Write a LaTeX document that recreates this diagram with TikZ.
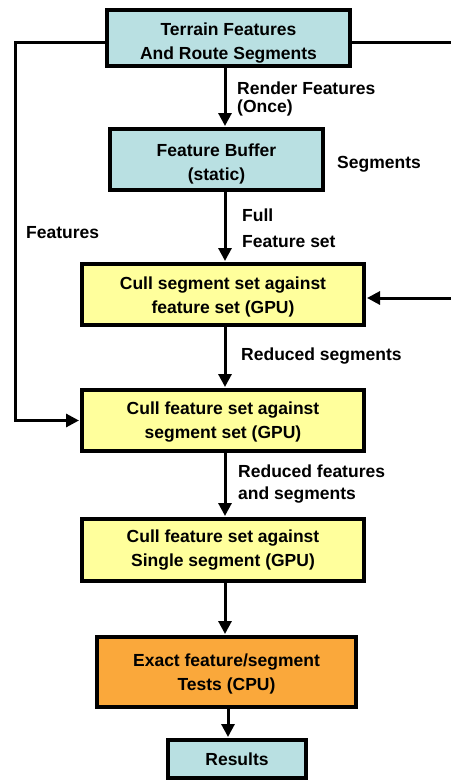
\documentclass[tikz,border=0pt]{standalone}
\usepackage{fontspec}
\setmainfont{Liberation Sans}
\usetikzlibrary{arrows.meta}
\definecolor{cyanbox}{HTML}{B9E0E2}
\definecolor{yelbox}{HTML}{FFFF9C}
\definecolor{orabox}{HTML}{FAA83B}
\newcommand{\myraise}[1]{\rule{0pt}{#1}}
\begin{document}
\begin{tikzpicture}[x=1pt,y=-1pt,
  box/.style={draw=black, line width=4pt, align=center, inner sep=0pt,
    font=\bfseries\fontsize{17.5}{24}\selectfont},
  lbl/.style={inner sep=0pt, align=left},
  conn/.style={line width=3pt},
  arr/.style={conn, -{Triangle[length=13pt,width=13pt]}, shorten >=1pt}]
\useasboundingbox (0,0) rectangle (450,782);
\node[box, fill=cyanbox, minimum width=243pt, minimum height=56pt] (top) at (228.5,38) {\myraise{22.5pt}Terrain Features\\And Route Segments};
\node[box, fill=cyanbox, minimum width=213pt, minimum height=61pt] (fb) at (216.5,159.5) {\myraise{22.5pt}Feature Buffer\\(static)};
\node[box, fill=yelbox, minimum width=282pt, minimum height=61pt] (c1) at (223,294.5) {\myraise{17pt}Cull segment set against\\feature set (GPU)};
\node[box, fill=yelbox, minimum width=282pt, minimum height=61pt] (c2) at (223,420.5) {\myraise{16pt}Cull feature set against\\segment set (GPU)};
\node[box, fill=yelbox, minimum width=282pt, minimum height=62pt] (c3) at (223,550) {Cull feature set against\\Single segment (GPU)};
\node[box, fill=orabox, minimum width=259pt, minimum height=70pt] (ex) at (226.5,672) {\myraise{17pt}Exact feature/segment\\Tests (CPU)};
\node[box, fill=cyanbox, minimum width=138pt, minimum height=38pt] (res) at (237,759) {Results};
\coordinate (ax) at (225,0);
\coordinate (bx) at (228,0);
\coordinate (lc) at (15,0);
\coordinate (rtop) at (452,42);
\coordinate (rin) at (452,298);
\draw[arr] (top.south -| ax) -- (fb.north -| ax);
\draw[arr] (fb.south -| ax) -- (c1.north -| ax);
\draw[arr] (c1.south -| ax) -- (c2.north -| ax);
\draw[arr] (c2.south -| ax) -- (c3.north -| ax);
\draw[arr] (c3.south -| ax) -- (ex.north -| ax);
\draw[arr] (ex.south -| bx) -- (res.north -| bx);
\draw[arr] ([yshift=-4pt]top.west) -| (lc |- c2.west) -- (c2.west);
\draw[conn] ([yshift=-4pt]top.east) -- (rtop);
\draw[arr] (rin) -- (c1.east |- rin);
\node[lbl, anchor=north west, font=\bfseries\fontsize{17.5}{18.4}\selectfont] (l1) at (237,81.7) {Render Features\\(Once)};
\node[lbl, anchor=base west, font=\bfseries\fontsize{17.5}{21}\selectfont] (l2) at (337,168.3) {Segments};
\node[lbl, anchor=base west, font=\bfseries\fontsize{17.5}{21}\selectfont] (l3) at (26,238.3) {Features};
\node[lbl, anchor=north west, font=\bfseries\fontsize{17.5}{26.7}\selectfont] (l4) at (242,208.3) {Full\\Feature set};
\node[lbl, anchor=base west, font=\bfseries\fontsize{17.5}{21}\selectfont] (l5) at (241,360) {Reduced segments};
\node[lbl, anchor=north west, font=\bfseries\fontsize{17.5}{22}\selectfont] (l6) at (238,465) {Reduced features\\and segments};
\end{tikzpicture}
\end{document}
